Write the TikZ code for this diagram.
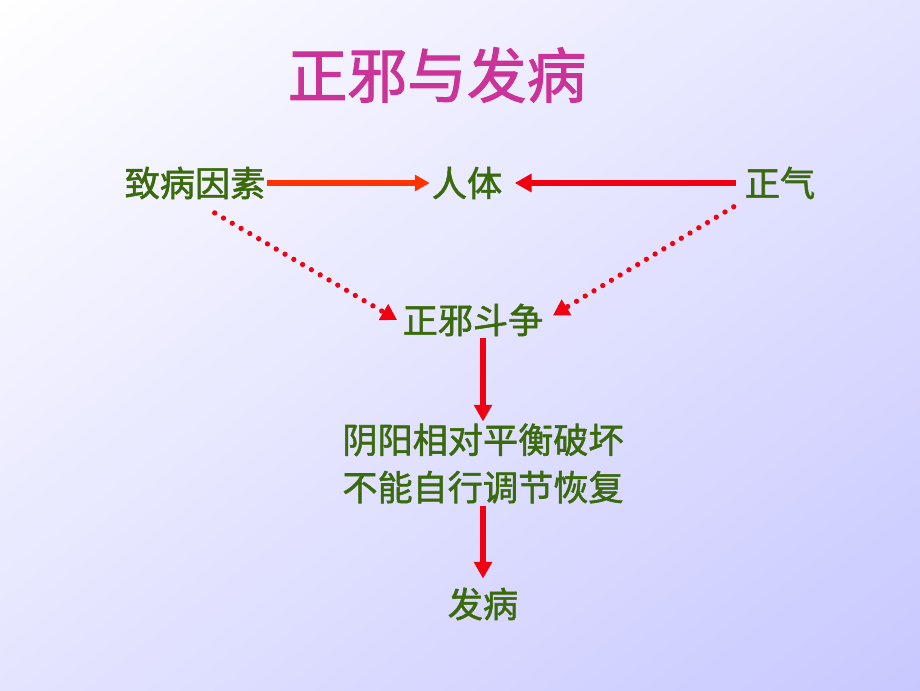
\documentclass[tikz,border=0pt]{standalone}
\usepackage{fontspec}
\newfontfamily\cjk[FakeBold=1.6]{Noto Sans CJK SC}
\usetikzlibrary{arrows.meta,positioning,shadings}
\definecolor{leafgreen}{HTML}{3A6A0C}
\definecolor{titlepink}{HTML}{CC3399}
\definecolor{arrowred}{HTML}{F00010}
\definecolor{arroworange}{HTML}{FF3300}
\definecolor{bglav}{HTML}{C8C8FF}
\definecolor{bgmid}{HTML}{E4E4FF}
\tikzset{
	term/.style={font=\cjk\fontsize{20}{27}\selectfont, text=leafgreen, inner sep=1pt, align=center},
	headline/.style={font=\cjk\fontsize{34}{40}\selectfont, text=titlepink, inner sep=1pt},
	diredge/.style={-{Triangle[width=10pt,length=9.5pt]}, line width=3.2pt, color=arrowred},
	diredge2/.style={-{Triangle[width=9pt,length=8.5pt]}, line width=3.2pt, color=arroworange},
	dotedge/.style={-{Triangle[width=10pt,length=9pt]}, line width=3pt, color=arrowred, line cap=round, dash pattern=on 0pt off 5.8pt}
}
\begin{document}
\begin{tikzpicture}
	%%%% background
	\shade[upper left=white, upper right=bgmid, lower left=bgmid, lower right=bglav] (0,0) rectangle (18.4,-13.8);
	\useasboundingbox (0,0) rectangle (18.4,-13.8);

	%%%% title
	\node[headline] (title) at (8.74,-1.5) {正邪与发病};

	%%%% top row
	\node[term] (cause) at (3.9,-3.66) {致病因素};
	\node[term] (body) at (9.34,-3.66) {人体};
	\node[term] (qi) at (15.6,-3.66) {正气};
	\draw[diredge2] (cause) -- (body);
	\draw[diredge, shorten <=4pt, shorten >=6pt] (qi) -- (body);

	%%%% struggle
	\node[term] (fight) at (9.46,-6.4) {正邪斗争};
	\draw[dotedge, shorten <=13pt] (cause.south) -- ([xshift=-2pt]fight.west);
	\draw[dotedge, shorten <=6pt, shorten >=5pt] (qi.south west) -- (fight.east);

	%%%% outcome
	\node[term] (loss) at (9.66,-9.27) {阴阳相对平衡破坏\\不能自行调节恢复};
	\node[term] (ill) at (9.66,-12.08) {发病};
	\draw[diredge] (loss.north |- fight.south) -- (loss.north);
	\draw[diredge, shorten >=4pt] (loss.south) -- (ill.north);
\end{tikzpicture}
\end{document}
